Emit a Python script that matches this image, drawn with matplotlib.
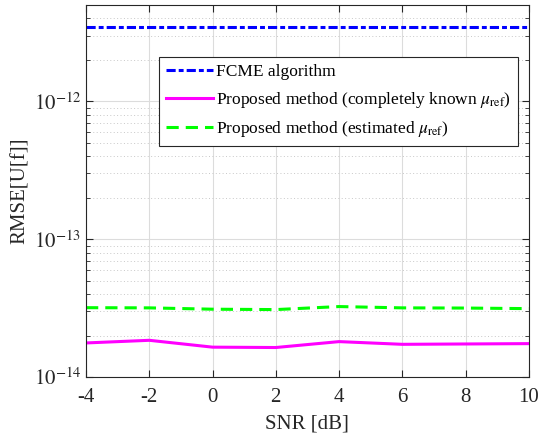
import matplotlib
matplotlib.use('Agg')
import matplotlib.pyplot as plt
from matplotlib.ticker import FixedLocator, LogLocator, NullFormatter

snr = [-4, -2, 0, 2, 4, 6, 8, 10]
fcme = [3.48e-12] * 8
known_ref = [1.77e-14, 1.85e-14, 1.65e-14, 1.64e-14, 1.81e-14, 1.73e-14, 1.74e-14, 1.75e-14]
est_ref = [3.19e-14, 3.18e-14, 3.11e-14, 3.09e-14, 3.25e-14, 3.18e-14, 3.17e-14, 3.14e-14]
y_ticks = [1e-14, 1e-13, 1e-12]
y_ticklabels = [r'$10^{-14}$', r'$10^{-13}$', r'$10^{-12}$']

plt.rcParams['font.family'] = ['Liberation Serif', 'DejaVu Serif']
plt.rcParams['mathtext.fontset'] = 'stix'
plt.rcParams['font.size'] = 15

fig = plt.figure(figsize=(5.48, 4.36), dpi=100)
ax = fig.add_axes([0.157, 0.135, 0.808, 0.8535])

ax.semilogy(snr, fcme, color='#0000ff', lw=2.2, linestyle=(0, (3, 1, 1.6, 1)),
            label='FCME algorithm')
ax.semilogy(snr, known_ref, color='#ff00ff', lw=2.2,
            label=r'Proposed method (completely known $\mu_{\rm ref}$)')
ax.semilogy(snr, est_ref, color='#00ff00', lw=2.2, linestyle=(0, (4, 2.3)),
            label=r'Proposed method (estimated $\mu_{\rm ref}$)')

ax.set_xlim(-4, 10)
ax.set_ylim(1e-14, 5e-12)
ax.set_xticks(snr)
ax.set_xticklabels([str(s) for s in snr])
ax.yaxis.set_major_locator(FixedLocator(y_ticks))
ax.set_yticklabels(y_ticklabels)
ax.yaxis.set_minor_locator(LogLocator(base=10, subs=range(2, 10)))
ax.yaxis.set_minor_formatter(NullFormatter())

ax.grid(True, which='major', color='#dcdcdc', lw=0.8, linestyle='-')
ax.grid(True, which='minor', axis='y', color='#c8c8c8', lw=0.7, linestyle=(0, (1, 2.5)))
ax.set_axisbelow(True)

ax.tick_params(which='both', direction='in', top=True, right=True, colors='#262626',
               labelcolor='#262626')
ax.tick_params(which='major', length=5)
ax.tick_params(which='minor', length=3)
ax.tick_params(axis='x', pad=8)
for s in ax.spines.values():
    s.set_color('#262626')
    s.set_linewidth(0.8)

ax.set_xlabel('SNR [dB]', color='#262626', labelpad=5)
ax.set_ylabel('RMSE[U[f]]', color='#262626', labelpad=3)

leg = ax.legend(loc='upper left', bbox_to_anchor=(0.165, 0.86), borderaxespad=0,
                fancybox=False, framealpha=1, edgecolor='#262626', handlelength=2.7,
                handletextpad=0.2, labelspacing=0.55, borderpad=0.4, fontsize=12.5)
leg.get_frame().set_linewidth(0.8)

fig.savefig('out.png', dpi=100)
